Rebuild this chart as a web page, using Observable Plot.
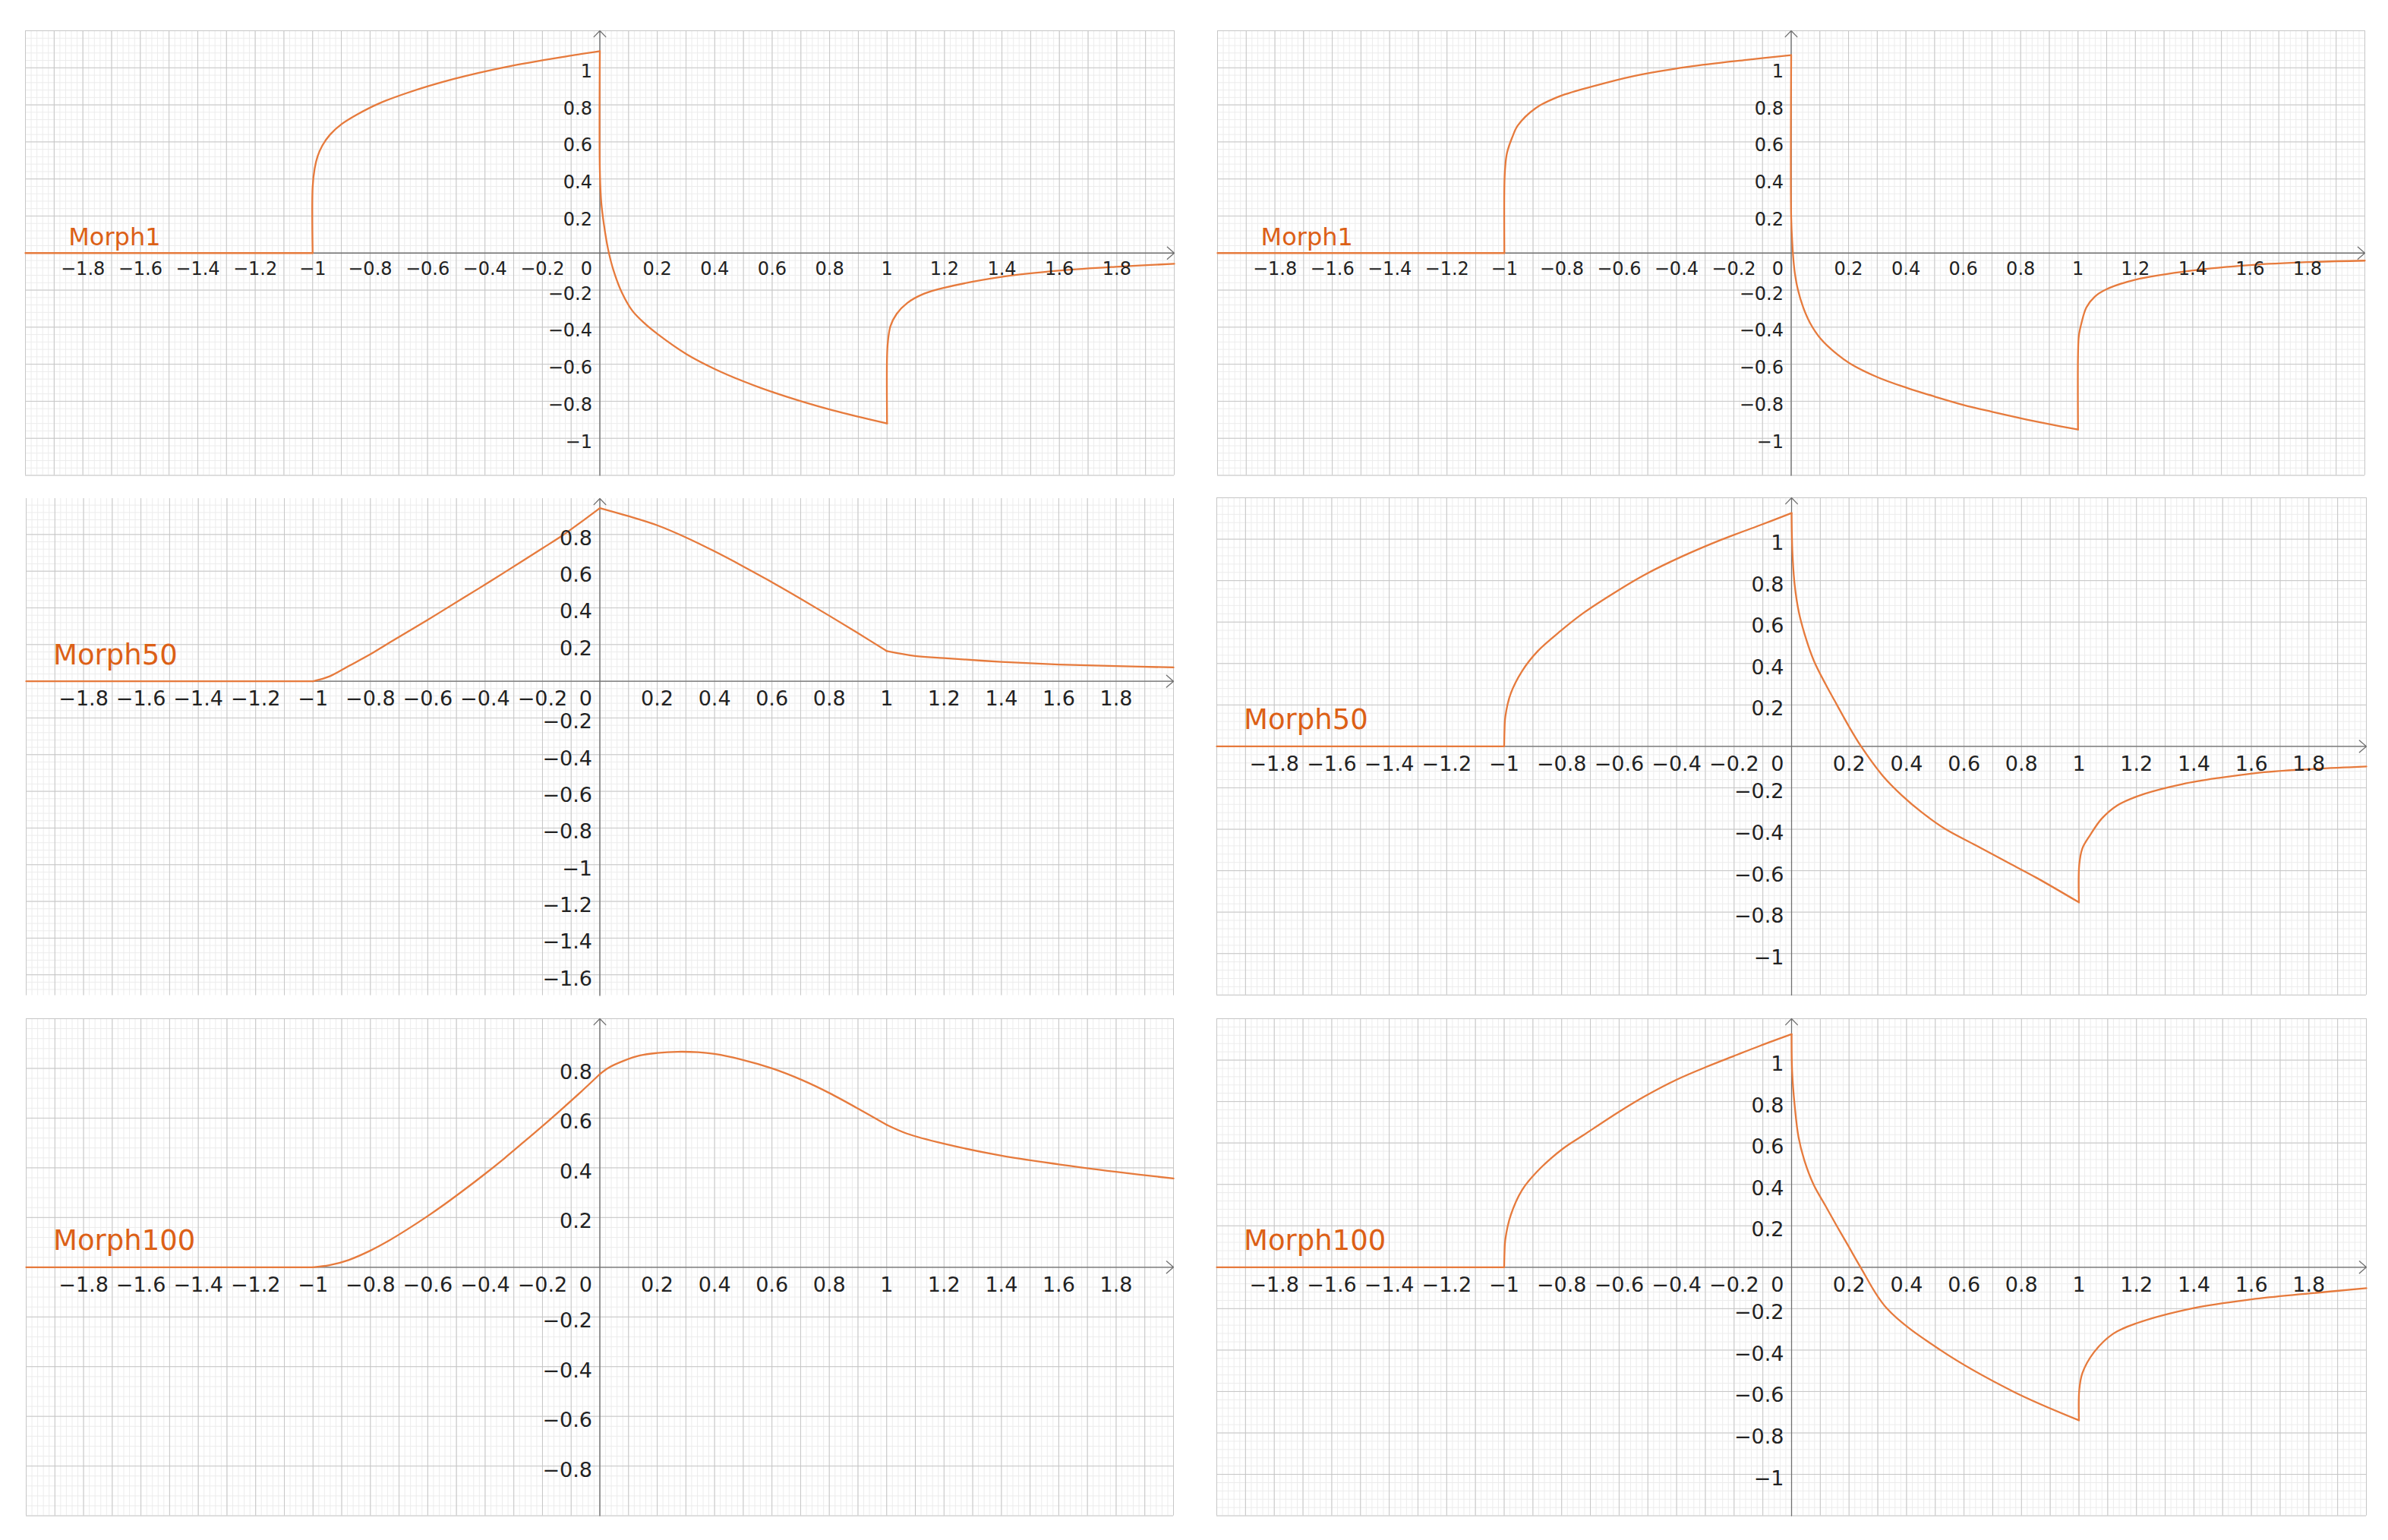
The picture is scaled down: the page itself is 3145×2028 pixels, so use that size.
<!DOCTYPE html>
<html><head><meta charset="utf-8">
<script src="https://cdn.jsdelivr.net/npm/d3@7"></script>
<script src="https://cdn.jsdelivr.net/npm/@observablehq/plot@0.6"></script>
<style>
html,body{margin:0;padding:0;background:#fff;}
#root{position:relative;width:3145px;height:2028px;overflow:hidden;background:#fff;}
#root svg{position:absolute;}
</style></head><body><div id="root"></div>
<script>
// ---------- data ----------
const xDomain = [-2, 2];
const xTicks = [-1.8, -1.6, -1.4, -1.2, -1, -0.8, -0.6, -0.4, -0.2, 0.2, 0.4, 0.6, 0.8, 1, 1.2, 1.4, 1.6, 1.8];
const yTicks12 = [1, 0.8, 0.6, 0.4, 0.2, -0.2, -0.4, -0.6, -0.8, -1];
const yTicks17 = [0.8, 0.6, 0.4, 0.2, -0.2, -0.4, -0.6, -0.8, -1, -1.2, -1.4, -1.6];
const yTicks10 = [0.8, 0.6, 0.4, 0.2, -0.2, -0.4, -0.6, -0.8];

// each curve = list of pieces, each piece = [x, y] points
const morph1Left = [
  [[-2, 0], [-1, 0]],
  [[-1, 0], [-1, 0.356], [-0.993, 0.456], [-0.9825, 0.523], [-0.966, 0.581], [-0.939, 0.640], [-0.899, 0.696], [-0.845, 0.748], [-0.771, 0.806], [-0.670, 0.865], [-0.508, 0.940], [-0.332, 1.003], [-0.103, 1.065], [0, 1.090]],
  [[0, 1.090], [0, 0.45], [0.005, 0.273], [0.014, 0.156], [0.0285, 0.022], [0.0476, -0.094], [0.076, -0.211], [0.113, -0.311], [0.156, -0.380], [0.2, -0.436], [0.301, -0.545], [0.403, -0.628], [0.504, -0.695], [0.606, -0.753], [0.707, -0.803], [0.809, -0.848], [0.910, -0.887], [1, -0.920]],
  [[1, -0.920], [1, -0.561], [1.003, -0.478], [1.0117, -0.395], [1.0336, -0.328], [1.070, -0.270], [1.128, -0.220], [1.2, -0.187], [1.403, -0.128], [1.606, -0.094], [1.795, -0.074], [2, -0.058]]
];
const morph1Right = [
  [[-2, 0], [-1, 0]],
  [[-1, 0], [-1, 0.36], [-0.9975, 0.456], [-0.991, 0.539], [-0.973, 0.623], [-0.953, 0.689], [-0.892, 0.781], [-0.818, 0.840], [-0.696, 0.898], [-0.548, 0.956], [-0.358, 1.006], [-0.156, 1.043], [0, 1.068]],
  [[0, 1.068], [0, 0.19], [0.004, 0.05], [0.008, -0.04], [0.013, -0.111], [0.023, -0.195], [0.042, -0.294], [0.066, -0.378], [0.102, -0.461], [0.159, -0.545], [0.204, -0.595], [0.301, -0.670], [0.404, -0.728], [0.501, -0.775], [0.601, -0.820], [0.701, -0.857], [0.801, -0.892], [0.901, -0.924], [1, -0.953]],
  [[1, -0.953], [1, -0.55], [1.003, -0.445], [1.012, -0.378], [1.029, -0.294], [1.058, -0.236], [1.100, -0.195], [1.2, -0.144], [1.4, -0.094], [1.6, -0.065], [1.8, -0.049], [2, -0.041]]
];
const morph50Left = [
  [[-2, 0], [-1, 0]],
  [[-1, 0], [-0.942, 0.027], [-0.874, 0.084], [-0.800, 0.147], [-0.739, 0.205], [-0.6, 0.335], [-0.469, 0.461], [-0.4, 0.527], [-0.334, 0.592], [-0.2, 0.725], [-0.132, 0.793], [0, 0.944]],
  [[0, 0.944], [0.097, 0.901], [0.2, 0.850], [0.3, 0.784], [0.4, 0.708], [0.5, 0.626], [0.6, 0.540], [0.7, 0.450], [0.8, 0.357], [0.9, 0.262], [1, 0.165]],
  [[1, 0.165], [1.099, 0.138], [1.2, 0.126], [1.4, 0.106], [1.6, 0.0915], [1.8, 0.0825], [2, 0.0753]]
];
const morph50Right = [
  [[-2, 0], [-1, 0]],
  [[-1, 0], [-0.999, 0.07], [-0.996, 0.143], [-0.9775, 0.254], [-0.937, 0.365], [-0.883, 0.460], [-0.803, 0.558], [-0.723, 0.645], [-0.616, 0.742], [-0.509, 0.830], [-0.376, 0.920], [-0.242, 0.999], [-0.109, 1.068], [0, 1.126]],
  [[0, 1.126], [0.003, 0.935], [0.011, 0.777], [0.025, 0.650], [0.046, 0.539], [0.078, 0.412], [0.118, 0.301], [0.158, 0.200], [0.198, 0.100], [0.242, 0], [0.318, -0.143], [0.385, -0.238], [0.452, -0.317], [0.532, -0.396], [0.639, -0.476], [0.745, -0.555], [0.852, -0.634], [1, -0.753]],
  [[1, -0.753], [1.001, -0.571], [1.012, -0.492], [1.039, -0.428], [1.079, -0.349], [1.133, -0.285], [1.226, -0.230], [1.360, -0.182], [1.493, -0.151], [1.626, -0.127], [1.787, -0.111], [2, -0.097]]
];
const morph100Left = [
  [[-2, 0], [-1, 0]],
  [[-1, 0], [-0.943, 0.008], [-0.876, 0.029], [-0.800, 0.067], [-0.740, 0.104], [-0.673, 0.151], [-0.600, 0.206], [-0.538, 0.256], [-0.470, 0.314], [-0.4, 0.376], [-0.334, 0.437], [-0.267, 0.502], [-0.2, 0.568], [-0.132, 0.637], [-0.0665, 0.705], [0, 0.777]],
  [[0, 0.777], [0.031, 0.803], [0.082, 0.830], [0.140, 0.852], [0.2, 0.862], [0.271, 0.867], [0.343, 0.865], [0.4, 0.858], [0.489, 0.837], [0.6, 0.800], [0.707, 0.752], [0.8, 0.701], [0.910, 0.632], [1, 0.573]],
  [[1, 0.573], [1.070, 0.538], [1.2, 0.497], [1.4, 0.449], [1.6, 0.414], [1.8, 0.384], [2, 0.357]]
];
const morph100Right = [
  [[-2, 0], [-1, 0]],
  [[-1, 0], [-0.999, 0.065], [-0.996, 0.134], [-0.9775, 0.250], [-0.9377, 0.373], [-0.884, 0.464], [-0.796, 0.572], [-0.724, 0.638], [-0.601, 0.750], [-0.510, 0.826], [-0.401, 0.905], [-0.297, 0.967], [-0.2005, 1.020], [-0.110, 1.069], [0, 1.125]],
  [[0, 1.125], [0.002, 0.944], [0.011, 0.778], [0.024, 0.630], [0.045, 0.514], [0.077, 0.398], [0.117, 0.299], [0.157, 0.200], [0.197, 0.104], [0.24, 0], [0.331, -0.198], [0.518, -0.400], [0.771, -0.600], [1, -0.739]],
  [[1, -0.739], [1.001, -0.593], [1.012, -0.511], [1.052, -0.411], [1.119, -0.321], [1.199, -0.271], [1.399, -0.197], [1.6, -0.155], [1.8, -0.127], [2, -0.101]]
];

// ---------- layout / style ----------
const CURVE = "#e67a3c";
const TITLE = "#dc6016";
const panels = [
  {title: "Morph1", pieces: morph1Left, L: 33, R: 1546, T: 39.5, B: 625, yDomain: [-1.2, 1.2], yTicks: yTicks12, font: 24, titleFont: 32, titleX: -1.85, xdy: 29, ydy: 12.5, tdy: -10},
  {title: "Morph1", pieces: morph1Right, L: 1603, R: 3114, T: 39.5, B: 625, yDomain: [-1.2, 1.2], yTicks: yTicks12, font: 24, titleFont: 32, titleX: -1.849, xdy: 29, ydy: 12.5, tdy: -10},
  {title: "Morph50", pieces: morph50Left, L: 34, R: 1545, T: 656, B: 1310.5, yDomain: [-1.713, 0.996], yTicks: yTicks17, font: 27, titleFont: 37, titleX: -1.906, xdy: 32, ydy: 14, tdy: -22.5},
  {title: "Morph50", pieces: morph50Right, L: 1602, R: 3116, T: 655.2, B: 1310, yDomain: [-1.2, 1.2], yTicks: yTicks12, font: 27, titleFont: 37, titleX: -1.906, xdy: 32, ydy: 14, tdy: -22.5},
  {title: "Morph100", pieces: morph100Left, L: 34, R: 1545, T: 1341.2, B: 1995.8, yDomain: [-1, 1], yTicks: yTicks10, font: 27, titleFont: 37, titleX: -1.906, xdy: 32, ydy: 14, tdy: -23},
  {title: "Morph100", pieces: morph100Right, L: 1602, R: 3116, T: 1341.2, B: 1995.8, yDomain: [-1.2, 1.2], yTicks: yTicks12, font: 27, titleFont: 37, titleX: -1.906, xdy: 32, ydy: 14, tdy: -23}
];

const fmt = v => (v < 0 ? "\u2212" : "") + String(Math.abs(v));
const root = document.getElementById("root");

function drawPanel(p) {
  const m = 14;
  const W = p.R - p.L + 2 * m, H = p.B - p.T + 2 * m;
  const [y0, y1] = p.yDomain;
  const minorX = d3.range(-100, 101).map(i => i / 50);
  const majorX = d3.range(-20, 21).map(i => i / 10);
  const minorY = d3.range(Math.ceil(y0 / 0.04 - 1e-6), Math.floor(y1 / 0.04 + 1e-6) + 1).map(i => i * 0.04);
  const majorY = d3.range(Math.ceil(y0 / 0.2 - 1e-6), Math.floor(y1 / 0.2 + 1e-6) + 1).map(i => i * 0.2);
  const pts = p.pieces.flatMap((seg, k) => seg.map(([x, y]) => ({x, y, k})));
  const txt = {fontSize: p.font, fill: "#222", lineAnchor: "bottom"};
  const svg = Plot.plot({
    width: W, height: H, margin: m,
    x: {domain: xDomain, axis: null},
    y: {domain: p.yDomain, axis: null},
    style: {fontFamily: "'DejaVu Sans', sans-serif", background: "transparent", overflow: "visible"},
    marks: [
      Plot.ruleX(minorX, {x: d => d, stroke: "#ececec", strokeWidth: 1}),
      Plot.ruleY(minorY, {y: d => d, stroke: "#ececec", strokeWidth: 1}),
      Plot.ruleX(majorX, {x: d => d, stroke: "#c6c6c6", strokeWidth: 1}),
      Plot.ruleY(majorY, {y: d => d, stroke: "#c6c6c6", strokeWidth: 1}),
      Plot.arrow([0], {x1: () => xDomain[0], x2: () => xDomain[1], y1: () => 0, y2: () => 0, stroke: "#707070", strokeWidth: 1.3, headAngle: 82, headLength: 14}),
      Plot.arrow([0], {x1: () => 0, x2: () => 0, y1: () => y0, y2: () => y1, stroke: "#707070", strokeWidth: 1.3, headAngle: 88, headLength: 13}),
      Plot.line(pts, {x: "x", y: "y", z: "k", curve: "catmull-rom", stroke: CURVE, strokeWidth: 2.3}),
      Plot.text(xTicks, {...txt, x: d => d, y: () => 0, text: fmt, textAnchor: "middle", dy: p.xdy}),
      Plot.text(p.yTicks, {...txt, x: () => 0, y: d => d, text: fmt, textAnchor: "end", dx: -10, dy: p.ydy}),
      Plot.text(["0"], {...txt, x: () => 0, y: () => 0, text: d => d, textAnchor: "end", dx: -10, dy: p.xdy}),
      Plot.text([p.title], {x: () => p.titleX, y: () => 0, text: d => d, textAnchor: "start", lineAnchor: "bottom", dy: p.tdy, fontSize: p.titleFont, fill: TITLE})
    ]
  });
  svg.style.left = (p.L - m) + "px";
  svg.style.top = (p.T - m) + "px";
  root.appendChild(svg);
}
panels.forEach(drawPanel);
</script>
</body></html>
